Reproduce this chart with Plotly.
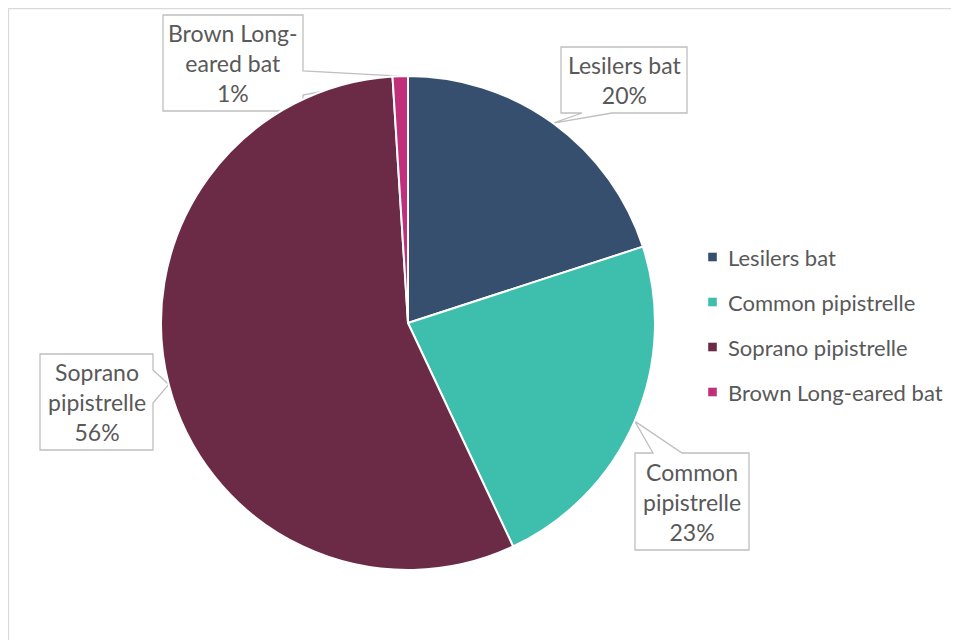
import math
import plotly.graph_objects as go

# ---- data ----
categories = ["Lesilers bat", "Common pipistrelle", "Soprano pipistrelle", "Brown Long-eared bat"]
values = [20, 23, 56, 1]
colors = ["#374F6E", "#3EBFAE", "#6B2A45", "#C0307A"]
label_lines = [["Lesilers bat"], ["Common", "pipistrelle"], ["Soprano", "pipistrelle"], ["Brown Long-", "eared bat"]]

OFF = 8  # page body margin
W, H = 959 - OFF, 640 - OFF
CX, CY, R = 408, 323, 247
FONT = "Lato"
TXT = "#595959"


def px(x):
    return (x - OFF) / W


def py(y):
    return 1 - (y - OFF) / H


fig = go.Figure(go.Pie(
    labels=categories, values=values, sort=False, direction="clockwise", rotation=0,
    marker=dict(colors=colors, line=dict(color="white", width=2)),
    textinfo="none", hoverinfo="label+percent", showlegend=False,
    domain=dict(x=[px(CX - R), px(CX + R)], y=[py(CY + R), py(CY - R)]),
))

# tips of callouts computed from slice mid-angles
total = sum(values)
tips = []
cum = 0
for v in values:
    mid = (cum + v / 2) / total * 2 * math.pi
    tips.append((CX + R * math.sin(mid), CY - R * math.cos(mid)))
    cum += v

# callout boxes: (left, top, right, bottom, side, base1, base2)
boxes = [
    (561, 47, 687, 113, "bottom", 582, 612),
    (635, 453, 749, 550, "top", 653, 682),
    (40, 354, 153, 450, "right", 370, 403),
    (163, 15, 303, 111, "right", 71, 95),
]

shapes = []
annotations = []
for i, (L, T, Rr, B, side, a1, a2) in enumerate(boxes):
    tx, ty = tips[i]
    if side == "bottom":
        pts = [(L, T), (Rr, T), (Rr, B), (a2, B), (tx, ty), (a1, B), (L, B)]
    elif side == "top":
        pts = [(L, T), (a1, T), (tx, ty), (a2, T), (Rr, T), (Rr, B), (L, B)]
    else:  # right
        pts = [(L, T), (Rr, T), (Rr, a1), (tx, ty), (Rr, a2), (Rr, B), (L, B)]
    path = "M " + " L ".join(f"{px(x):.5f},{py(y):.5f}" for x, y in pts) + " Z"
    shapes.append(dict(type="path", xref="paper", yref="paper", path=path,
                       fillcolor="white", line=dict(color="#BFBFBF", width=1.3), layer="below"))
    pct = round(values[i] / total * 100)
    text = "<br>".join(label_lines[i] + [f"{pct}%"])
    annotations.append(dict(x=px((L + Rr) / 2), y=py((T + B) / 2), xref="paper", yref="paper",
                            text=text, showarrow=False, xanchor="center", yanchor="middle",
                            font=dict(family=FONT, size=23, color=TXT)))

# legend (manual)
leg_x, leg_y0, leg_dy = 712.5, 257, 45
for i, cat in enumerate(categories):
    yy = leg_y0 + i * leg_dy
    shapes.append(dict(type="rect", xref="paper", yref="paper",
                       x0=px(leg_x - 4.3), x1=px(leg_x + 4.3), y0=py(yy + 4.3), y1=py(yy - 4.3),
                       fillcolor=colors[i], line=dict(width=0)))
    annotations.append(dict(x=px(726), y=py(yy), xref="paper", yref="paper", text=cat,
                            showarrow=False, xanchor="left", yanchor="middle",
                            font=dict(family=FONT, size=22, color=TXT)))

# outer chart border
shapes.append(dict(type="rect", xref="paper", yref="paper", x0=px(8.5), x1=px(980), y0=py(700), y1=py(8.6),
                   line=dict(color="#D9D9D9", width=1.2), fillcolor="rgba(0,0,0,0)", layer="below"))

fig.update_layout(width=W, height=H, margin=dict(l=0, r=0, t=0, b=0),
                  paper_bgcolor="white", plot_bgcolor="white",
                  shapes=shapes, annotations=annotations, showlegend=False)

fig.write_html("out.html")
